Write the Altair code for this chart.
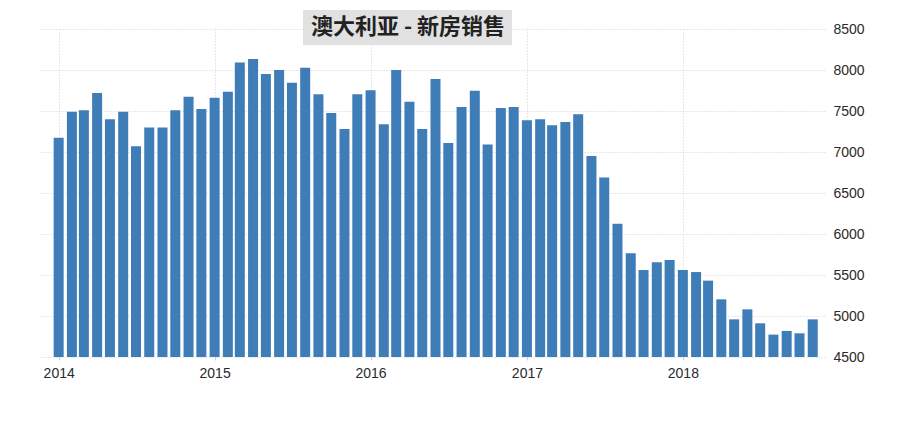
import altair as alt
import pandas as pd

title_text = "澳大利亚 - 新房销售"

months = pd.date_range("2014-01-01", "2018-11-01", freq="MS").strftime("%Y-%m-%d").tolist()

sales = [
    7175, 7490, 7510, 7720, 7400, 7490, 7070, 7300, 7300, 7510, 7675, 7525,
    7663, 7736, 8090, 8134, 7951, 8000, 7845, 8028, 7703, 7476, 7280, 7703,
    7752, 7337, 8000, 7614, 7280, 7890, 7110, 7550, 7748, 7090, 7537, 7550,
    7386, 7398, 7325, 7366, 7459, 6950, 6690, 6126, 5765, 5561, 5654, 5682,
    5561, 5536, 5431, 5203, 4959, 5081, 4911, 4773, 4818, 4789, 4959,
]

y_ticks = [4500, 5000, 5500, 6000, 6500, 7000, 7500, 8000, 8500]
x_ticks = ["2014-01-01", "2015-01-01", "2016-01-01", "2017-01-01", "2018-01-01"]

df = pd.DataFrame({"month": months, "sales": sales})

bars = alt.Chart(df).mark_bar(color="#3e7db8", width=10).encode(
    x=alt.X(
        "month:T",
        scale=alt.Scale(domain=["2013-11-30", "2018-11-18"]),
        axis=alt.Axis(
            title=None,
            format="%Y",
            values=x_ticks,
            labelFontSize=14,
            labelColor="#2a2a2a",
            labelFont="Liberation Sans",
            labelPadding=6,
            tickSize=3,
            tickColor="#cccccc",
            domain=False,
            grid=True,
            gridColor="#d0d0d0",
            gridDash=[1, 2],
            labelAngle=0,
        ),
    ),
    y=alt.Y(
        "sales:Q",
        scale=alt.Scale(domain=[4500, 8500], zero=False, nice=False),
        axis=alt.Axis(
            title=None,
            orient="right",
            values=y_ticks,
            format="d",
            labelFontSize=14,
            labelColor="#2a2a2a",
            labelFont="Liberation Sans",
            labelPadding=8,
            ticks=False,
            domain=False,
            grid=True,
            gridColor="#d0d0d0",
            gridDash=[1, 2],
        ),
    ),
    y2=alt.datum(4500),
)

tdf = pd.DataFrame({"t": [title_text]})

box = alt.Chart(tdf).mark_rect(color="#e1e1e1").encode(
    x=alt.value(263), x2=alt.value(472), y=alt.value(-19), y2=alt.value(16)
)

label = alt.Chart(tdf).mark_text(
    fontSize=22, fontWeight="bold", font="Noto Sans CJK SC", color="#222222",
    align="center", baseline="middle"
).encode(text="t:N", x=alt.value(368), y=alt.value(-2))

chart = alt.layer(bars, box, label).properties(
    width=785,
    height=328,
    autosize=alt.AutoSizeParams(type="none"),
    padding={"left": 32, "top": 21, "right": 60, "bottom": 50},
    background="white",
).configure_view(stroke=None)

chart.save("out.html", embed_options={"renderer": "svg", "actions": False})
